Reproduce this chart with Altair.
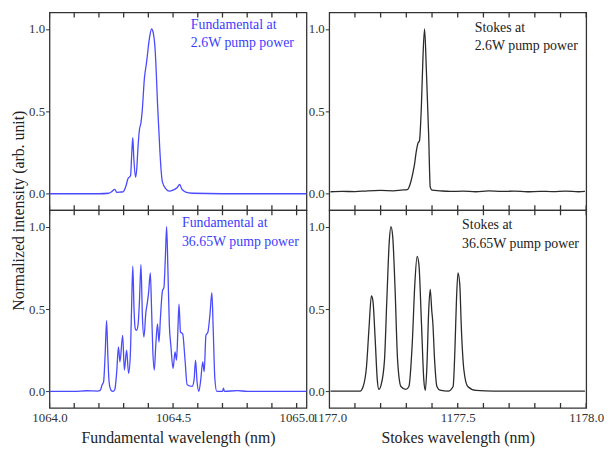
import altair as alt
import pandas as pd

# ---------------- data ----------------
tl_wl = [1064.000, 1064.100, 1064.200, 1064.240, 1064.251, 1064.264, 1064.273, 1064.285,
         1064.297, 1064.310, 1064.317, 1064.328, 1064.333, 1064.337, 1064.341, 1064.348,
         1064.353, 1064.358, 1064.364, 1064.370, 1064.375, 1064.384, 1064.393, 1064.404,
         1064.413, 1064.420, 1064.428, 1064.433, 1064.437, 1064.442, 1064.447, 1064.457,
         1064.471, 1064.484, 1064.500, 1064.517, 1064.527, 1064.535, 1064.551, 1064.577,
         1064.700, 1064.850, 1065.040]
tl_int = [0.0, 0.0, 0.0, 0.003, 0.012, 0.026, 0.008, 0.010,
          0.012, 0.050, 0.090, 0.110, 0.250, 0.340, 0.220, 0.100,
          0.150, 0.280, 0.390, 0.430, 0.500, 0.700, 0.800, 0.940,
          1.000, 0.975, 0.860, 0.700, 0.550, 0.400, 0.250, 0.070,
          0.030, 0.016, 0.022, 0.038, 0.056, 0.030, 0.010, 0.003,
          0.0, 0.0, 0.0]

tr_wl = [1177.005, 1177.050, 1177.100, 1177.150, 1177.200, 1177.250, 1177.280, 1177.304,
         1177.317, 1177.326, 1177.332, 1177.338, 1177.346, 1177.351, 1177.359, 1177.365,
         1177.371, 1177.378, 1177.387, 1177.393, 1177.400, 1177.430, 1177.470, 1177.520,
         1177.570, 1177.620, 1177.670, 1177.720, 1177.770, 1177.820, 1177.870, 1177.920,
         1177.970, 1177.995]
tr_int = [0.012, 0.014, 0.013, 0.018, 0.020, 0.018, 0.022, 0.025,
          0.070, 0.130, 0.180, 0.250, 0.310, 0.320, 0.550, 0.840,
          1.000, 0.750, 0.350, 0.040, 0.022, 0.018, 0.014, 0.016,
          0.012, 0.018, 0.014, 0.016, 0.012, 0.015, 0.013, 0.016,
          0.012, 0.015]

bl_wl = [1064.000, 1064.100, 1064.150, 1064.195, 1064.205, 1064.213, 1064.219, 1064.225,
         1064.231, 1064.236, 1064.241, 1064.248, 1064.257, 1064.264, 1064.272, 1064.279,
         1064.285, 1064.296, 1064.303, 1064.312, 1064.320, 1064.327, 1064.332, 1064.337,
         1064.342, 1064.347, 1064.352, 1064.358, 1064.364, 1064.370, 1064.376, 1064.382,
         1064.390, 1064.395, 1064.401, 1064.408, 1064.413, 1064.418, 1064.424, 1064.430,
         1064.437, 1064.443, 1064.449, 1064.457, 1064.463, 1064.469, 1064.474, 1064.479,
         1064.485, 1064.491, 1064.500, 1064.508, 1064.514, 1064.519, 1064.524, 1064.530,
         1064.539, 1064.548, 1064.557, 1064.577, 1064.585, 1064.591, 1064.597, 1064.604,
         1064.612, 1064.620, 1064.626, 1064.633, 1064.641, 1064.650, 1064.657, 1064.663,
         1064.669, 1064.677, 1064.700, 1064.704, 1064.708, 1064.760, 1064.800, 1065.040]
bl_int = [0.0, 0.0, 0.004, 0.002, 0.006, 0.040, 0.060, 0.220,
          0.430, 0.220, 0.060, 0.010, 0.0, 0.010, 0.120, 0.270,
          0.180, 0.340, 0.130, 0.250, 0.110, 0.220, 0.500, 0.760,
          0.500, 0.380, 0.370, 0.400, 0.550, 0.770, 0.450, 0.330,
          0.480, 0.530, 0.600, 0.720, 0.500, 0.250, 0.130, 0.280,
          0.410, 0.300, 0.450, 0.610, 0.630, 0.820, 1.000, 0.750,
          0.400, 0.280, 0.140, 0.240, 0.190, 0.350, 0.530, 0.360,
          0.350, 0.200, 0.040, 0.030, 0.070, 0.190, 0.060, 0.0,
          0.070, 0.180, 0.120, 0.340, 0.360, 0.480, 0.600, 0.350,
          0.080, 0.0, 0.0, 0.020, 0.0, 0.005, 0.0, 0.0]

br_wl = [1177.005, 1177.120, 1177.132, 1177.145, 1177.155, 1177.164, 1177.170, 1177.179,
         1177.187, 1177.193, 1177.202, 1177.215, 1177.224, 1177.234, 1177.240, 1177.247,
         1177.256, 1177.266, 1177.279, 1177.298, 1177.310, 1177.323, 1177.333, 1177.342,
         1177.349, 1177.359, 1177.368, 1177.374, 1177.380, 1177.387, 1177.393, 1177.399,
         1177.403, 1177.410, 1177.419, 1177.431, 1177.463, 1177.482, 1177.489, 1177.495,
         1177.501, 1177.508, 1177.514, 1177.524, 1177.539, 1177.571, 1177.641, 1177.995]
br_int = [0.002, 0.002, 0.030, 0.150, 0.390, 0.580, 0.550, 0.310,
          0.070, 0.012, 0.040, 0.190, 0.550, 0.920, 1.000, 0.940,
          0.630, 0.190, 0.030, 0.012, 0.030, 0.290, 0.650, 0.820,
          0.770, 0.410, 0.070, 0.006, 0.150, 0.490, 0.620, 0.490,
          0.420, 0.190, 0.030, 0.008, 0.002, 0.030, 0.250, 0.550,
          0.720, 0.650, 0.390, 0.130, 0.030, 0.006, 0.002, 0.002]

left_ticks = [1064.0, 1064.1, 1064.2, 1064.3, 1064.4, 1064.5, 1064.6, 1064.7, 1064.8, 1064.9, 1065.0]
right_ticks = [1177.0, 1177.1, 1177.2, 1177.3, 1177.4, 1177.5, 1177.6, 1177.7, 1177.8, 1177.9, 1178.0]
y_ticks = [0.0, 0.5, 1.0]

left_domain = [1064.0, 1065.04]
right_domain = [1177.0, 1178.0]
y_domain = [-0.1, 1.1]

notes = ["Fundamental at\n2.6W pump power", "Stokes at\n2.6W pump power",
         "Fundamental at\n36.65W pump power", "Stokes at\n36.65W pump power"]
note_wl = [1064.572, 1177.566, 1064.536, 1177.517]
note_int = [1.068, 1.050, 1.062, 1.050]

x_titles = ["Fundamental wavelength (nm)", "Stokes wavelength (nm)"]
y_title = "Normalized intensity (arb. unit)"

FONT = "Liberation Serif"
BLUE = "#4a4aff"
TBLUE = "#3c3cff"
DARK = "#2b2b2b"
FRAME = "#333333"
LABEL_EXPR = "abs(datum.value*2 - round(datum.value*2)) < 0.001 ? format(datum.value, '.1f') : ''"


def panel(wl, inten, xdom, xticks, color, note, nx, ny, ncolor, bottom, xtitle, ytitle):
    df = pd.DataFrame({"wl": wl, "I": inten})
    xscale = alt.Scale(domain=xdom, nice=False, zero=False)
    yscale = alt.Scale(domain=y_domain, nice=False, zero=False)

    xb_kwargs = dict(values=xticks, orient="bottom", ticks=False, domain=False,
                     grid=False, labels=bottom, labelFlush=False, labelOverlap=False)
    if bottom:
        xb_kwargs.update(labelExpr=LABEL_EXPR, labelPadding=4, title=xtitle, titlePadding=5)
    else:
        xb_kwargs.update(title=None)
    xaxis = alt.Axis(**xb_kwargs)

    ya_kwargs = dict(values=y_ticks, format=".1f", ticks=True, tickSize=4, domain=False, grid=False,
                     labelPadding=1, tickColor=FRAME, tickWidth=1, tickOpacity=1)
    if ytitle:
        ya_kwargs.update(title=ytitle, titleX=-31, titleY=200, titleBaseline="middle")
    else:
        ya_kwargs.update(title=None)
    yaxis = alt.Axis(**ya_kwargs)

    line = alt.Chart(df).mark_line(color=color, strokeWidth=1.3, interpolate="monotone").encode(
        x=alt.X("wl:Q", scale=xscale, axis=xaxis),
        y=alt.Y("I:Q", scale=yscale, axis=yaxis),
    )

    # inward frame ticks on top and bottom edges, positioned through the scales
    tick_df = pd.DataFrame({
        "wl": [t for t in xticks for _ in y_domain],
        "I": [e for _ in xticks for e in y_domain],
    })
    ticks = alt.Chart(tick_df).mark_tick(
        orient="vertical", size=10, thickness=1.3, color=FRAME, clip=True, opacity=1
    ).encode(
        x=alt.X("wl:Q", scale=xscale, axis=xaxis),
        y=alt.Y("I:Q", scale=yscale, axis=yaxis),
    )

    tdf = pd.DataFrame({"wl": [nx], "I": [ny], "t": [note]})
    text = alt.Chart(tdf).mark_text(
        align="left", baseline="top", font=FONT, fontSize=14, color=ncolor,
        lineBreak="\n", lineHeight=19,
    ).encode(
        x=alt.X("wl:Q", scale=xscale, axis=xaxis),
        y=alt.Y("I:Q", scale=yscale, axis=yaxis),
        text="t:N",
    )
    return alt.layer(line, ticks, text).properties(width=260, height=200)


tl = panel(tl_wl, tl_int, left_domain, left_ticks, BLUE, notes[0], note_wl[0], note_int[0], TBLUE,
           False, None, y_title)
tr = panel(tr_wl, tr_int, right_domain, right_ticks, DARK, notes[1], note_wl[1], note_int[1], "#222222",
           False, None, None)
bl = panel(bl_wl, bl_int, left_domain, left_ticks, BLUE, notes[2], note_wl[2], note_int[2], TBLUE,
           True, x_titles[0], None)
br = panel(br_wl, br_int, right_domain, right_ticks, DARK, notes[3], note_wl[3], note_int[3], "#222222",
           True, x_titles[1], None)

chart = alt.concat(tl, tr, bl, br, columns=2, spacing={"row": 0, "column": 23}, bounds="flush").properties(
    padding={"left": 2, "top": 1, "right": 0, "bottom": 0}
).configure(background="white").configure_view(
    stroke=FRAME, strokeWidth=1.3
).configure_axis(
    labelFont=FONT, labelFontSize=13, labelColor="#333333",
    titleFont=FONT, titleFontSize=16, titleFontWeight="normal", titleColor="#222222",
)

chart.save("out.html", embed_options={"renderer": "svg", "actions": False})
